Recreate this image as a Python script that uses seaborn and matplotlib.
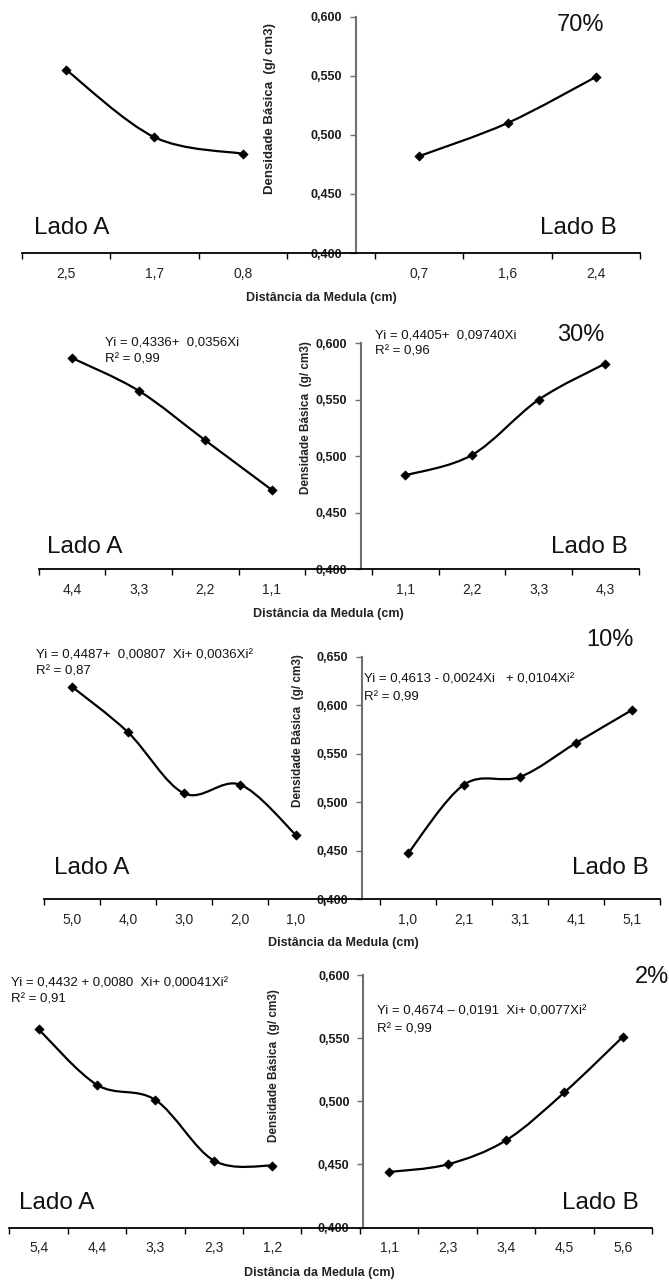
import numpy as np
import matplotlib
matplotlib.use("Agg")
import matplotlib.pyplot as plt
from matplotlib.path import Path
from matplotlib.patches import PathPatch
import seaborn as sns

sns.set_theme(style="white")
plt.rcParams['font.family'] = ['Liberation Sans', 'DejaVu Sans']

# ---- data ----
p70_a_labels = ['2,5', '1,7', '0,8']
p70_a = [0.555, 0.498, 0.484]
p70_b_labels = ['0,7', '1,6', '2,4']
p70_b = [0.482, 0.510, 0.549]

p30_a_labels = ['4,4', '3,3', '2,2', '1,1']
p30_a = [0.587, 0.558, 0.514, 0.470]
p30_b_labels = ['1,1', '2,2', '3,3', '4,3']
p30_b = [0.483, 0.501, 0.550, 0.582]

p10_a_labels = ['5,0', '4,0', '3,0', '2,0', '1,0']
p10_a = [0.619, 0.572, 0.509, 0.518, 0.466]
p10_b_labels = ['1,0', '2,1', '3,1', '4,1', '5,1']
p10_b = [0.447, 0.518, 0.526, 0.561, 0.595]

p2_a_labels = ['5,4', '4,4', '3,3', '2,3', '1,2']
p2_a = [0.557, 0.513, 0.501, 0.453, 0.449]
p2_b_labels = ['1,1', '2,3', '3,4', '4,5', '5,6']
p2_b = [0.444, 0.450, 0.469, 0.507, 0.551]

percent_labels = ['70%', '30%', '10%', '2%']
y_tops = [0.600, 0.600, 0.650, 0.600]

eq_a = [None,
        ('Yi = 0,4336+  0,0356Xi', 'R² = 0,99'),
        ('Yi = 0,4487+  0,00807  Xi+ 0,0036Xi²', 'R² = 0,87'),
        ('Yi = 0,4432 + 0,0080  Xi+ 0,00041Xi²', 'R² = 0,91')]
eq_b = [None,
        ('Yi = 0,4405+  0,09740Xi', 'R² = 0,96'),
        ('Yi = 0,4613 - 0,0024Xi   + 0,0104Xi²', 'R² = 0,99'),
        ('Yi = 0,4674 – 0,0191  Xi+ 0,0077Xi²', 'R² = 0,99')]

panels = [
    (p70_a_labels, p70_a, p70_b_labels, p70_b),
    (p30_a_labels, p30_a, p30_b_labels, p30_b),
    (p10_a_labels, p10_a, p10_b_labels, p10_b),
    (p2_a_labels, p2_a, p2_b_labels, p2_b),
]

# ---- layout (pixels) ----
W, H = 669, 1285
layout = [
    dict(l=22, r=640, t=16.7, b=253, spine=3.28, ylab=(270, 109, 9.5), pct=(581, 25),
         lado_y=228, lado_a=34, lado_b=617, xlab=(321, 298), ea=None, eb=None),
    dict(l=38.6, r=638.6, t=343.3, b=569, spine=4.33, ylab=(306.5, 418, 8.5), pct=(581, 335),
         lado_y=547, lado_a=47, lado_b=628, xlab=(328, 614), ea=(105, 343), eb=(375, 335)),
    dict(l=44, r=660, t=656.7, b=899, spine=5.18, ylab=(298, 731, 8.5), pct=(610, 640),
         lado_y=868, lado_a=54, lado_b=649, xlab=(343, 943), ea=(36, 655), eb=(364, 680)),
    dict(l=9.4, r=652, t=975, b=1227.5, spine=5.56, ylab=(274, 1066, 8.5), pct=(652, 977),
         lado_y=1203, lado_a=19, lado_b=639, xlab=(319, 1273), ea=(10.7, 983), eb=(377, 1012)),
]


def fx(px):
    return px / W


def fy(py):
    return 1 - py / H


def smooth_path(xs, ys):
    pts = np.column_stack([xs, ys]).astype(float)
    n = len(pts)
    verts = [pts[0]]
    codes = [Path.MOVETO]
    for i in range(n - 1):
        p0 = pts[max(i - 1, 0)]
        p1 = pts[i]
        p2 = pts[i + 1]
        p3 = pts[min(i + 2, n - 1)]
        verts += [p1 + (p2 - p0) / 6, p2 - (p3 - p1) / 6, p2]
        codes += [Path.CURVE4] * 3
    return Path(verts, codes)


fig = plt.figure(figsize=(W / 100, H / 100), dpi=100)
fig.patch.set_facecolor('white')

for k, ((la, va, lb, vb), L) in enumerate(zip(panels, layout)):
    ax = fig.add_axes([fx(L['l']), fy(L['b']), (L['r'] - L['l']) / W, (L['b'] - L['t']) / H])
    ax.set_facecolor('white')
    labels = la + [''] + lb
    n = len(labels)
    xa = np.arange(len(la))
    xb = np.arange(len(la) + 1, n)

    for xs, ys in ((xa, va), (xb, vb)):
        ax.add_patch(PathPatch(smooth_path(xs, ys), fill=False, lw=1.6, color='black'))
        sns.scatterplot(x=xs, y=ys, ax=ax, marker='D', s=22, color='black',
                        edgecolor='black', linewidth=0.5, zorder=3, legend=False)

    # spines first: moving a spine resets the ticks
    for s in ('top', 'right'):
        ax.spines[s].set_visible(False)
    ax.spines['left'].set_position(('data', L['spine']))
    ax.spines['left'].set_color('#6f6f6f')
    ax.spines['left'].set_linewidth(1.5)
    ax.spines['bottom'].set_color('black')
    ax.spines['bottom'].set_linewidth(1.3)
    ax.grid(False)

    ax.set_xlim(-0.5, n - 0.5)
    ax.set_ylim(0.400, y_tops[k])
    ax.set_xticks(np.arange(n))
    ax.set_xticklabels(labels, fontsize=10)
    ax.set_xticks(np.arange(n + 1) - 0.5, minor=True)
    ax.tick_params(axis='x', which='major', length=0, pad=10, colors='#222222')
    ax.tick_params(axis='x', which='minor', length=4, width=1, direction='out',
                   color='black', bottom=True)

    yt = np.arange(0.400, y_tops[k] + 0.001, 0.050)
    ax.set_yticks(yt)
    ax.set_yticklabels([f"{v:.3f}".replace('.', ',') for v in yt],
                       fontsize=9, fontweight='bold', color='#1a1a1a')
    ax.tick_params(axis='y', length=4, width=1, direction='out', color='#6f6f6f',
                   pad=6, left=True)

    x0, y0, fs = L['ylab']
    fig.text(fx(x0), fy(y0), 'Densidade Básica  (g/ cm3)', rotation=90,
             ha='center', va='center', fontsize=fs, fontweight='bold', color='#222222')
    fig.text(fx(L['xlab'][0]), fy(L['xlab'][1]), 'Distância da Medula (cm)',
             ha='center', va='center', fontsize=9, fontweight='bold', color='#222222')
    fig.text(fx(L['pct'][0]), fy(L['pct'][1]), percent_labels[k],
             ha='center', va='center', fontsize=17, color='#111111')
    fig.text(fx(L['lado_a']), fy(L['lado_y']), 'Lado A', ha='left', va='center',
             fontsize=17.5, color='#111111')
    fig.text(fx(L['lado_b']), fy(L['lado_y']), 'Lado B', ha='right', va='center',
             fontsize=17.5, color='#111111')

    for eq, pos in ((eq_a[k], L['ea']), (eq_b[k], L['eb'])):
        if eq is None:
            continue
        fig.text(fx(pos[0]), fy(pos[1]), eq[0], ha='left', va='center',
                 fontsize=9.5, color='#111111')
        fig.text(fx(pos[0]), fy(pos[1] + 17), eq[1], ha='left', va='center',
                 fontsize=9.5, color='#111111')

fig.savefig('out.png', dpi=100, facecolor='white')
